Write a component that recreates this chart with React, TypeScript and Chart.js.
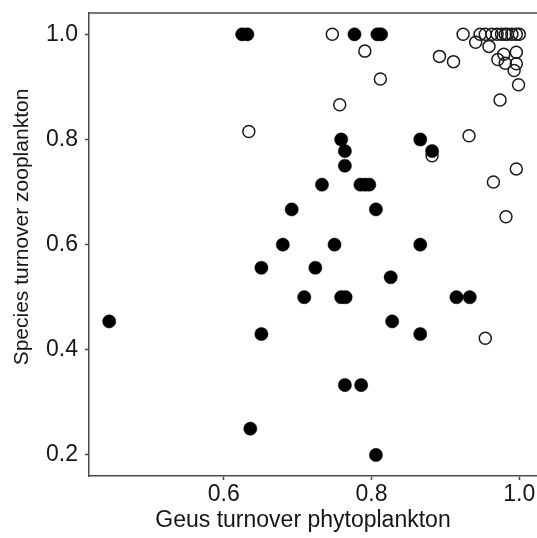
import React, { useEffect, useRef } from "react";
import { Chart, registerables } from "chart.js";

Chart.register(...registerables);

// Genus turnover phytoplankton (x) vs species turnover zooplankton (y)
const filledX = [0.625, 0.632, 0.777, 0.808, 0.813, 0.445, 0.759, 0.764, 0.764, 0.733, 0.785, 0.791, 0.797, 0.692, 0.806, 0.680, 0.750, 0.866, 0.651, 0.724, 0.826, 0.709, 0.759, 0.765, 0.915, 0.933, 0.828, 0.651, 0.866, 0.764, 0.786, 0.636, 0.806, 0.866, 0.882];
const filledY = [1.0, 1.0, 1.0, 1.0, 1.0, 0.454, 0.80, 0.778, 0.75, 0.714, 0.714, 0.714, 0.714, 0.667, 0.667, 0.60, 0.60, 0.60, 0.556, 0.556, 0.538, 0.50, 0.50, 0.50, 0.50, 0.50, 0.454, 0.43, 0.43, 0.333, 0.333, 0.25, 0.20, 0.80, 0.778];

const openX = [0.747, 0.791, 0.812, 0.757, 0.634, 0.882, 0.892, 0.911, 0.924, 0.932, 0.941, 0.947, 0.954, 0.959, 0.963, 0.970, 0.971, 0.976, 0.981, 0.984, 0.979, 0.981, 0.990, 0.996, 1.0, 0.996, 0.996, 0.993, 0.999, 0.974, 0.996, 0.965, 0.982, 0.954];
const openY = [1.0, 0.968, 0.915, 0.866, 0.815, 0.769, 0.958, 0.948, 1.0, 0.807, 0.985, 1.0, 1.0, 0.977, 1.0, 1.0, 0.952, 1.0, 1.0, 1.0, 0.962, 0.945, 1.0, 1.0, 1.0, 0.966, 0.944, 0.931, 0.904, 0.875, 0.744, 0.719, 0.653, 0.422];

const xTicks = [0.6, 0.8, 1.0];
const yTicks = [0.2, 0.4, 0.6, 0.8, 1.0];

const xTitle = "Geus turnover phytoplankton";
const yTitle = "Species turnover zooplankton";

const FONT = "'Liberation Sans', Arial, Helvetica, sans-serif";
const AXIS_COLOR = "#4a4a4a";
const TEXT_COLOR = "#161616";

const zeroPadding = (s: any) => {
  s.paddingTop = 0;
  s.paddingBottom = 0;
  s.paddingLeft = 0;
  s.paddingRight = 0;
};

const framePlugin = {
  id: "frameAndTitles",
  afterDraw(chart: any) {
    const { ctx, chartArea } = chart;
    ctx.save();
    // top frame line
    ctx.strokeStyle = AXIS_COLOR;
    ctx.lineWidth = 1.5;
    ctx.beginPath();
    ctx.moveTo(chartArea.left, chartArea.top);
    ctx.lineTo(chartArea.right, chartArea.top);
    ctx.stroke();
    // axis titles
    ctx.fillStyle = TEXT_COLOR;
    ctx.font = `23px ${FONT}`;
    ctx.textAlign = "center";
    ctx.textBaseline = "alphabetic";
    ctx.fillText(xTitle, chartArea.left + 214, chartArea.bottom + 51);
    ctx.translate(chartArea.left - 61, chartArea.top + 214);
    ctx.rotate(-Math.PI / 2);
    ctx.font = `21px ${FONT}`;
    ctx.fillText(yTitle, 0, 0);
    ctx.restore();
  },
};

export default function App() {
  const ref = useRef<HTMLCanvasElement>(null);
  useEffect(() => {
    if (!ref.current) return;
    const filled = filledX.map((x, i) => ({ x, y: filledY[i] }));
    const open = openX.map((x, i) => ({ x, y: openY[i] }));
    const chart = new Chart(ref.current, {
      type: "scatter",
      data: {
        datasets: [
          {
            label: "filled",
            data: filled,
            pointRadius: 6.6,
            pointBackgroundColor: "#000000",
            pointBorderColor: "#000000",
            pointBorderWidth: 0.5,
          },
          {
            label: "open",
            data: open,
            pointRadius: 6,
            pointBackgroundColor: "rgba(0,0,0,0)",
            pointBorderColor: "#1a1a1a",
            pointBorderWidth: 1.5,
          },
        ],
      },
      options: {
        responsive: false,
        animation: false,
        events: [],
        layout: { autoPadding: false, padding: { top: 13, right: 0, left: 0, bottom: 0 } },
        plugins: { legend: { display: false }, tooltip: { enabled: false } },
        scales: {
          x: {
            type: "linear",
            min: 0.4177,
            max: 1.024,
            afterBuildTicks: (s: any) => {
              s.ticks = xTicks.map((v) => ({ value: v }));
            },
            afterFit: (s: any) => {
              s.height = 62;
              zeroPadding(s);
            },
            border: { display: true, color: AXIS_COLOR, width: 1.5 },
            grid: { display: true, drawOnChartArea: false, drawTicks: true, tickLength: 4, tickColor: AXIS_COLOR, tickWidth: 1.5 },
            ticks: {
              padding: 1,
              color: TEXT_COLOR,
              font: { family: FONT, size: 23 },
              maxRotation: 0,
              autoSkip: false,
              callback: (v: any) => Number(v).toFixed(1),
            },
          },
          y: {
            type: "linear",
            min: 0.160,
            max: 1.0405,
            afterBuildTicks: (s: any) => {
              s.ticks = yTicks.map((v) => ({ value: v }));
            },
            afterFit: (s: any) => {
              s.width = 89;
              zeroPadding(s);
            },
            border: { display: true, color: AXIS_COLOR, width: 1.5 },
            grid: { display: true, drawOnChartArea: false, drawTicks: true, tickLength: 4, tickColor: AXIS_COLOR, tickWidth: 1.5 },
            ticks: {
              padding: 7,
              color: TEXT_COLOR,
              font: { family: FONT, size: 23 },
              autoSkip: false,
              callback: (v: any) => Number(v).toFixed(1),
            },
          },
        },
      },
      plugins: [framePlugin],
    });
    return () => chart.destroy();
  }, []);
  return (
    <div style={{ position: "fixed", left: 0, top: 0, width: 537, height: 538, background: "#ffffff" }}>
      <canvas ref={ref} width={537} height={538} style={{ display: "block" }} />
    </div>
  );
}
